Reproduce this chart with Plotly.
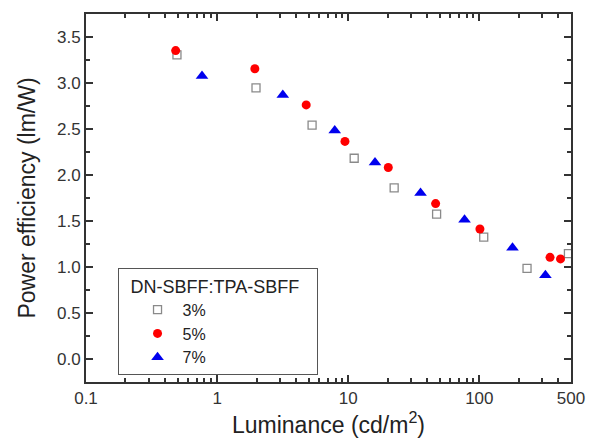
import plotly.graph_objects as go

lum_3 = [0.494, 1.98, 5.30, 11.1, 22.4, 47.2, 108, 231, 478]
pe_3 = [3.305, 2.947, 2.543, 2.182, 1.860, 1.574, 1.324, 0.984, 1.145]
lum_5 = [0.483, 1.94, 4.78, 9.44, 20.2, 46.4, 101, 346, 416]
pe_5 = [3.352, 3.155, 2.762, 2.365, 2.082, 1.689, 1.413, 1.105, 1.088]
lum_7 = [0.767, 3.17, 7.89, 16.0, 35.6, 77.1, 179, 319]
pe_7 = [3.076, 2.869, 2.483, 2.135, 1.803, 1.513, 1.209, 0.909]

x_tickvals = [0.1, 1, 10, 100, 500]
x_ticktext = ["0.1", "1", "10", "100", "500"]
x_minor = [m * d for d in (0.1, 1, 10) for m in range(2, 10)] + [200, 300, 400]
y_tickvals = [0.0, 0.5, 1.0, 1.5, 2.0, 2.5, 3.0, 3.5]
y_ticktext = ["0.0", "0.5", "1.0", "1.5", "2.0", "2.5", "3.0", "3.5"]
y_minor = [-0.25, 0.25, 0.75, 1.25, 1.75, 2.25, 2.75, 3.25, 3.75]

FONT = "Liberation Sans, Arial, sans-serif"
AX = "#333333"

fig = go.Figure()
fig.add_trace(go.Scatter(x=lum_3, y=pe_3, mode="markers", name="3%",
                         marker=dict(symbol="square-open", size=8, color="#8a8a8a", line=dict(width=1.3))))
fig.add_trace(go.Scatter(x=lum_5, y=pe_5, mode="markers", name="5%",
                         marker=dict(symbol="circle", size=9, color="#ff0000")))
fig.add_trace(go.Scatter(x=lum_7, y=pe_7, mode="markers", name="7%",
                         marker=dict(symbol="triangle-up", size=11, color="#0000ee")))

axis_common = dict(showline=True, linecolor=AX, linewidth=2, mirror="ticks", ticks="inside",
                   tickcolor=AX, tickwidth=1.5, ticklen=7, showgrid=False, zeroline=False,
                   tickfont=dict(family=FONT, size=17, color=AX))

fig.update_xaxes(type="log", range=[-1, 2.699], tickmode="array", tickvals=x_tickvals,
                 ticktext=x_ticktext,
                 minor=dict(tickmode="array", tickvals=x_minor, ticks="inside", ticklen=4,
                            tickcolor=AX, tickwidth=1.5),
                 title=dict(text="Luminance (cd/m<sup>2</sup>)", font=dict(family=FONT, size=23, color="#222"),
                            standoff=2),
                 **axis_common)
fig.update_yaxes(range=[-0.25, 3.75], tickmode="array", tickvals=y_tickvals, ticktext=y_ticktext,
                 minor=dict(tickmode="array", tickvals=y_minor, ticks="inside", ticklen=4,
                            tickcolor=AX, tickwidth=1.5),
                 title=dict(text="Power efficiency (lm/W)", font=dict(family=FONT, size=23, color="#222"),
                            standoff=15),
                 **axis_common)

fig.update_layout(width=597, height=439, margin=dict(l=86, r=18, t=14, b=52),
                  plot_bgcolor="white", paper_bgcolor="white",
                  legend=dict(x=0.065, y=0.309, xanchor="left", yanchor="top",
                              bordercolor="#555555", borderwidth=1, bgcolor="white",
                              indentation=14, itemwidth=40,
                              title=dict(text="\u00a0\u00a0DN-SBFF:TPA-SBFF\u00a0\u00a0\u00a0",
                                         font=dict(family=FONT, size=18, color="#222")),
                              font=dict(family=FONT, size=16, color="#222"), tracegroupgap=0),
                  showlegend=True)

fig.write_html("out.html")
